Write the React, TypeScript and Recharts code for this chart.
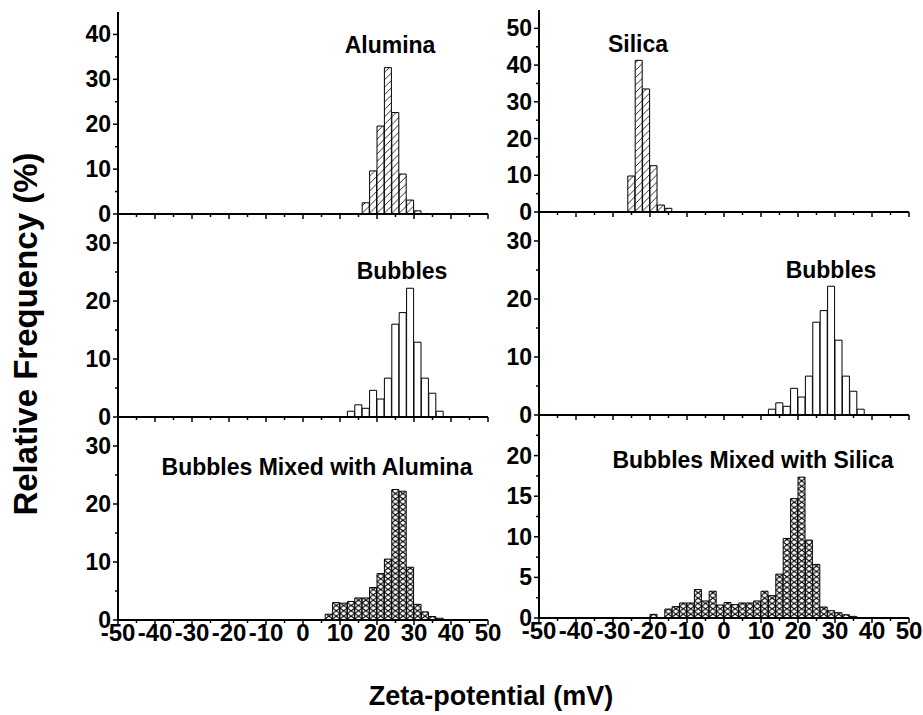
import React from "react";
import { BarChart, Bar, XAxis, YAxis } from "recharts";

const X_TICKS = [-50, -45, -40, -35, -30, -25, -20, -15, -10, -5, 0, 5, 10, 15, 20, 25, 30, 35, 40, 45, 50];
const X_LABELS = [-50, -40, -30, -20, -10, 0, 10, 20, 30, 40, 50];

// bin centres (mV) and relative frequency (%), 2 mV bins
const aluminaZeta = [17, 19, 21, 23, 25, 27, 29, 31];
const aluminaFreq = [2.5, 9.6, 19.6, 32.6, 22.6, 8.9, 3.1, 0.7];

const silicaZeta = [-25, -23, -21, -19, -17, -15];
const silicaFreq = [9.8, 41.3, 33.5, 12.6, 1.9, 1.0];

const bubblesZeta = [13, 15, 17, 19, 21, 23, 25, 27, 29, 31, 33, 35, 37];
const bubblesFreq = [1.0, 2.1, 1.5, 4.6, 3.1, 6.7, 16.0, 18.0, 22.2, 12.9, 6.7, 4.1, 1.0];

const mixAluminaZeta = [7, 9, 11, 13, 15, 17, 19, 21, 23, 25, 27, 29, 31, 33, 35, 37];
const mixAluminaFreq = [1.0, 3.0, 2.9, 3.2, 3.8, 3.8, 5.6, 8.0, 10.5, 22.5, 22.2, 9.1, 2.7, 1.4, 0.6, 0.3];

const mixSilicaZeta = [-19, -15, -13, -11, -9, -7, -5, -3, -1, 1, 3, 5, 7, 9, 11, 13, 15, 17, 19, 21, 23, 25, 27, 29, 31, 33, 35];
const mixSilicaFreq = [0.45, 1.1, 1.4, 1.85, 1.85, 3.5, 2.1, 3.3, 1.6, 1.9, 1.65, 1.85, 1.85, 2.1, 3.3, 2.75, 5.4, 9.8, 14.7, 17.35, 9.6, 6.6, 1.35, 0.9, 0.65, 0.4, 0.2];

const FONT = "Arial, 'Liberation Sans', sans-serif";
const PW = 370; // plot width
const AXW = 62;
const MT = 6;
const MR = 20;
const BIN = PW / 50;

type PanelProps = {
  id: string;
  zeta: number[];
  freq: number[];
  left: number;
  top: number;
  height: number;
  yMax: number;
  yTicks: number[];
  yLabels: number[];
  hatch: "diag" | "cross" | "none";
  showX: boolean;
};

function Panel({ id, zeta, freq, left, top, height, yMax, yTicks, yLabels, hatch, showX }: PanelProps) {
  const data = zeta.map((z, i) => ({ zeta: z, freq: freq[i] }));
  const bottomH = showX ? 34 : 14;
  const axisLine = { stroke: "#000", strokeWidth: 2 };

  const xBottom = (p: any) => {
    const v = p.payload.value;
    const major = X_LABELS.includes(v);
    return (
      <g>
        <line x1={p.x} x2={p.x} y1={p.y} y2={p.y + (major ? 5 : 3)} stroke="#000" strokeWidth={1.5} />
        {showX && major && (
          <text x={p.x} y={p.y + 21} textAnchor="middle" fontSize={24} fontWeight="bold" fontFamily={FONT} fill="#000">
            {v}
          </text>
        )}
      </g>
    );
  };
  const xTop = (p: any) => {
    const major = X_LABELS.includes(p.payload.value);
    return <line x1={p.x} x2={p.x} y1={p.y} y2={p.y + (major ? 5 : 3)} stroke="#000" strokeWidth={1.5} />;
  };
  const yLeft = (p: any) => {
    const v = p.payload.value;
    const major = yLabels.includes(v);
    return (
      <g>
        <line x1={p.x} x2={p.x - (major ? 5 : 3)} y1={p.y} y2={p.y} stroke="#000" strokeWidth={1.5} />
        {major && (
          <text x={p.x - 7} y={p.y + 8} textAnchor="end" fontSize={23} fontWeight="bold" fontFamily={FONT} fill="#000">
            {v}
          </text>
        )}
      </g>
    );
  };
  const yRight = (p: any) => {
    const major = yLabels.includes(p.payload.value);
    return <line x1={p.x} x2={p.x - (major ? 5 : 3)} y1={p.y} y2={p.y} stroke="#000" strokeWidth={1.5} />;
  };

  const fill = hatch === "none" ? "#fff" : `url(#${hatch}-${id})`;

  return (
    <div style={{ position: "absolute", left: left - AXW, top: top - MT }}>
      <BarChart
        width={PW + AXW + MR}
        height={height + MT + bottomH}
        data={data}
        margin={{ top: MT, right: MR, left: 0, bottom: 0 }}
        barCategoryGap={0}
        barGap={0}
      >
        <defs>
          <pattern id={`diag-${id}`} patternUnits="userSpaceOnUse" x={AXW} y={0} width={BIN} height={BIN}>
            <rect width={BIN} height={BIN} fill="#fff" />
            <line x1={0} y1={BIN} x2={BIN} y2={0} stroke="#111" strokeWidth={0.9} />
          </pattern>
          <pattern id={`cross-${id}`} patternUnits="userSpaceOnUse" x={AXW} y={0} width={BIN} height={BIN * 0.72}>
            <rect width={BIN} height={BIN * 0.72} fill="#fff" />
            <line x1={0} y1={0} x2={BIN} y2={BIN * 0.72} stroke="#000" strokeWidth={1.1} />
            <line x1={0} y1={BIN * 0.72} x2={BIN} y2={0} stroke="#000" strokeWidth={1.1} />
          </pattern>
        </defs>
        <XAxis
          dataKey="zeta"
          type="number"
          domain={[-50, 50]}
          ticks={X_TICKS}
          interval={0}
          height={bottomH}
          tickSize={0}
          tickMargin={0}
          tickLine={false}
          tick={xBottom}
          axisLine={axisLine}
          allowDataOverflow
        />
        <XAxis
          xAxisId="top"
          orientation="top"
          type="number"
          domain={[-50, 50]}
          ticks={X_TICKS}
          interval={0}
          height={0}
          tickSize={0}
          tickMargin={0}
          tickLine={false}
          tick={xTop}
          axisLine={axisLine}
          allowDataOverflow
        />
        <YAxis
          type="number"
          domain={[0, yMax]}
          ticks={yTicks}
          interval={0}
          width={AXW}
          tickSize={0}
          tickMargin={0}
          tickLine={false}
          tick={yLeft}
          axisLine={axisLine}
          allowDataOverflow
        />
        <YAxis
          yAxisId="right"
          orientation="right"
          type="number"
          domain={[0, yMax]}
          ticks={yTicks}
          interval={0}
          width={0}
          tickSize={0}
          tickMargin={0}
          tickLine={false}
          tick={yRight}
          axisLine={axisLine}
          allowDataOverflow
        />
        <Bar dataKey="freq" fill={fill} stroke="#000" strokeWidth={1} isAnimationActive={false} />
      </BarChart>
    </div>
  );
}

const T = (props: { x: number; y: number; children: React.ReactNode; size?: number }) => (
  <text x={props.x} y={props.y} textAnchor="middle" fontSize={props.size ?? 23} fontWeight="bold" fontFamily={FONT} fill="#000">
    {props.children}
  </text>
);

export default function App() {
  const y45 = [0, 5, 10, 15, 20, 25, 30, 35, 40];
  const y55 = [0, 5, 10, 15, 20, 25, 30, 35, 40, 45, 50];
  const y35 = [0, 5, 10, 15, 20, 25, 30];
  const y25 = [0, 2.5, 5, 7.5, 10, 12.5, 15, 17.5, 20, 22.5];
  return (
    <div style={{ position: "absolute", left: 0, top: 0, width: 923, height: 715, background: "#fff", overflow: "hidden" }}>
      <Panel id="a" zeta={aluminaZeta} freq={aluminaFreq} left={118} top={12} height={202} yMax={45} yTicks={y45} yLabels={[0, 10, 20, 30, 40]} hatch="diag" showX={false} />
      <Panel id="b" zeta={bubblesZeta} freq={bubblesFreq} left={118} top={214} height={203} yMax={35} yTicks={y35} yLabels={[0, 10, 20, 30]} hatch="none" showX={false} />
      <Panel id="c" zeta={mixAluminaZeta} freq={mixAluminaFreq} left={118} top={417} height={203} yMax={35} yTicks={y35} yLabels={[0, 10, 20, 30]} hatch="cross" showX={true} />
      <Panel id="d" zeta={silicaZeta} freq={silicaFreq} left={539} top={10} height={202} yMax={55} yTicks={y55} yLabels={[0, 10, 20, 30, 40, 50]} hatch="diag" showX={false} />
      <Panel id="e" zeta={bubblesZeta} freq={bubblesFreq} left={539} top={212} height={203} yMax={35} yTicks={y35} yLabels={[0, 10, 20, 30]} hatch="none" showX={false} />
      <Panel id="f" zeta={mixSilicaZeta} freq={mixSilicaFreq} left={539} top={415} height={203} yMax={25} yTicks={y25} yLabels={[0, 5, 10, 15, 20]} hatch="cross" showX={true} />
      <svg width={923} height={715} style={{ position: "absolute", left: 0, top: 0, pointerEvents: "none" }}>
        <T x={390} y={53}>Alumina</T>
        <T x={638} y={52}>Silica</T>
        <T x={402} y={279}>Bubbles</T>
        <T x={831} y={278}>Bubbles</T>
        <T x={317} y={475}>Bubbles Mixed with Alumina</T>
        <T x={753} y={468}>Bubbles Mixed with Silica</T>
        <T x={491} y={705} size={27}>Zeta-potential (mV)</T>
        <g transform="rotate(-90, 37, 334)">
          <T x={37} y={334} size={33}>Relative Frequency (%)</T>
        </g>
      </svg>
    </div>
  );
}
